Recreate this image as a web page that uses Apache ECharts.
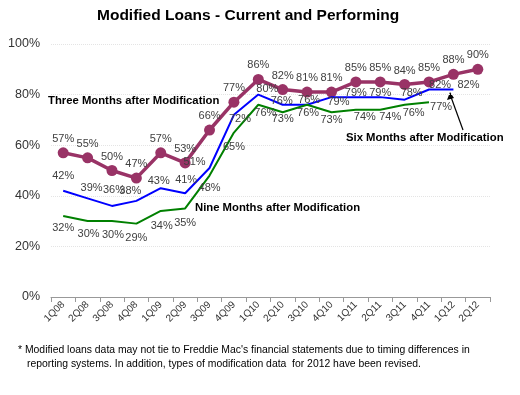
<!DOCTYPE html>
<html><head><meta charset="utf-8">
<script src="https://cdn.jsdelivr.net/npm/echarts@6/dist/echarts.min.js"></script>
<style>html,body{margin:0;padding:0;background:#fff}#c{width:520px;height:395px}</style>
</head><body><div id="c"></div>
<script>
var categories = ['1Q08','2Q08','3Q08','4Q08','1Q09','2Q09','3Q09','4Q09','1Q10','2Q10','3Q10','4Q10','1Q11','2Q11','3Q11','4Q11','1Q12','2Q12'];
var threeMonths = [57,55,50,47,57,53,66,77,86,82,81,81,85,85,84,85,88,90];
var sixMonths = [42,39,36,38,43,41,51,72,80,76,76,79,79,79,78,82,82];
var nineMonths = [32,30,30,29,34,35,48,65,76,73,76,73,74,74,76,77];
var yTicks = [0,20,40,60,80,100];

// label placement offsets (pixels, relative to each point)
var sixLabelOffsets = [[0,-15],[4,-10],[2,-16],[-6,-10],[-2,-7],[1,-13],[-15,-6],[6,4],[9,-6],[-1,-4],[2,-5],[7,5],[0,-4],[0,-4],[7,-7],[11,-5],[15,-5]];
var nineLabelOffsets = [[0,12],[1,13],[1,14],[0,14],[1,15],[0,15],[0,12],[0,14],[7,8],[0,7],[1,8],[0,8],[9,7],[10,7],[9,8],[12,5]];

var font = 'Liberation Sans, Arial, sans-serif';
var lblColor = '#404040';

function build(vals, offs) {
  return vals.map(function(v, i) {
    return {value: v, label: {position: 'inside', offset: offs[i]}};
  });
}

var chart = echarts.init(document.getElementById('c'), null, {renderer: 'canvas'});
chart.setOption({
  animation: false,
  title: {text: 'Modified Loans - Current and Performing', left: 92, top: 3,
    textStyle: {fontFamily: font, fontSize: 15.5, fontWeight: 'bold', color: '#000'}},
  grid: {left: 51, right: 30, top: 44, bottom: 98},
  xAxis: {type: 'category', data: categories, boundaryGap: true,
    axisLine: {lineStyle: {color: '#999'}},
    axisTick: {show: true, lineStyle: {color: '#999'}},
    axisLabel: {rotate: 45, fontFamily: font, fontSize: 10, color: '#333', margin: 6}},
  yAxis: {type: 'value', min: 0, max: 100, interval: 20,
    axisLine: {show: false}, axisTick: {show: false},
    axisLabel: {formatter: function(v){return yTicks.indexOf(v) >= 0 ? v + '%' : '';}, fontFamily: font, fontSize: 12.5, color: '#333', margin: 11},
    splitLine: {lineStyle: {color: '#e4e4e4', type: 'dotted'}}},
  series: [
    {name: 'Three Months', type: 'line', z: 2, data: threeMonths, symbol: 'circle', symbolSize: 11,
      lineStyle: {color: '#993366', width: 3.5}, itemStyle: {color: '#993366'},
      label: {show: true, position: 'top', distance: 3, formatter: '{c}%', fontFamily: font, fontSize: 11, color: lblColor}},
    {name: 'Six Months', type: 'line', z: 3, data: build(sixMonths, sixLabelOffsets), symbol: 'circle', symbolSize: 1, showSymbol: true,
      lineStyle: {color: '#0000ff', width: 2}, itemStyle: {color: 'rgba(0,0,0,0)', borderWidth: 0},
      label: {show: true, formatter: '{c}%', fontFamily: font, fontSize: 11, color: lblColor}},
    {name: 'Nine Months', type: 'line', z: 3, data: build(nineMonths, nineLabelOffsets), symbol: 'circle', symbolSize: 1, showSymbol: true,
      lineStyle: {color: '#008000', width: 2}, itemStyle: {color: 'rgba(0,0,0,0)', borderWidth: 0},
      label: {show: true, formatter: '{c}%', fontFamily: font, fontSize: 11, color: lblColor}}
  ],
  graphic: [
    {type: 'text', left: 48, top: 95, style: {text: 'Three Months after Modification', font: 'bold 11.3px ' + font, fill: '#000'}},
    {type: 'text', left: 195, top: 202, style: {text: 'Nine Months after Modification', font: 'bold 11.3px ' + font, fill: '#000'}},
    {type: 'text', left: 346, top: 132, style: {text: 'Six Months after Modification', font: 'bold 11.3px ' + font, fill: '#000'}},
    {type: 'line', shape: {x1: 463, y1: 130, x2: 451, y2: 97}, style: {stroke: '#000', lineWidth: 1.2}},
    {type: 'polygon', shape: {points: [[450, 92], [447, 100], [454, 98]]}, style: {fill: '#000'}},
    {type: 'text', left: 18, top: 345, style: {text: "* Modified loans data may not tie to Freddie Mac's financial statements due to timing differences in", font: '10.4px ' + font, fill: '#000'}},
    {type: 'text', left: 27, top: 359, style: {text: 'reporting systems. In addition, types of modification data  for 2012 have been revised.', font: '10.4px ' + font, fill: '#000'}}
  ]
});
</script></body></html>
